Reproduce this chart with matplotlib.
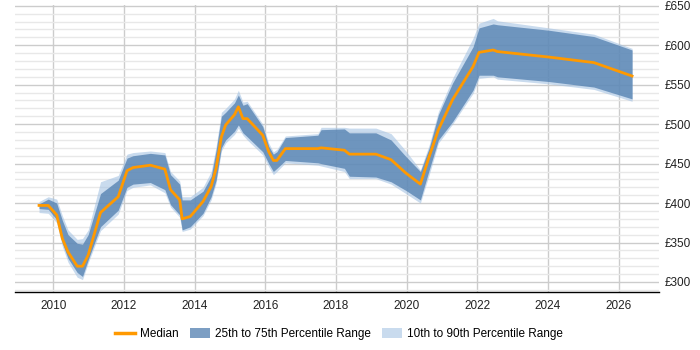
import matplotlib
matplotlib.use("Agg")
import matplotlib.pyplot as plt
from matplotlib.ticker import MultipleLocator, FuncFormatter
from matplotlib.patches import Patch
from matplotlib.lines import Line2D

plt.rcParams['font.family'] = ['Liberation Sans', 'DejaVu Sans']

years = [2009.60, 2009.86, 2010.10, 2010.26, 2010.42, 2010.68, 2010.83, 2010.99,
         2011.34, 2011.84, 2012.09, 2012.26, 2012.75, 2013.16, 2013.32, 2013.58,
         2013.65, 2013.88, 2014.24, 2014.47, 2014.61, 2014.76, 2014.88, 2015.13,
         2015.24, 2015.37, 2015.49, 2015.93, 2016.10, 2016.23, 2016.33, 2016.57,
         2017.49, 2017.58, 2018.24, 2018.38, 2019.13, 2019.56, 2019.98, 2020.39,
         2020.64, 2020.90, 2021.30, 2021.88, 2022.05, 2022.45, 2022.57, 2024.03,
         2025.30, 2026.38]
median = [397, 397, 385, 355, 338, 320, 320, 334,
          388, 408, 441, 445, 448, 443, 417, 404,
          380, 383, 402, 421, 444, 484, 499, 512,
          522, 507, 507, 486, 465, 454, 454, 469,
          469, 470, 467, 462, 462, 455, 438, 424,
          459, 493, 531, 573, 591, 594, 592, 585,
          578, 561]
p25 = [393, 392, 379, 349, 330, 312, 307, 328,
       370, 391, 420, 424, 426, 417, 398, 385,
       366, 370, 387, 408, 429, 470, 480, 491,
       499, 489, 484, 465, 450, 440, 444, 454,
       451, 450, 444, 434, 433, 427, 416, 404,
       442, 480, 503, 543, 562, 562, 560, 554,
       547, 532]
p75 = [399, 405, 400, 378, 360, 349, 348, 360,
       412, 429, 457, 460, 463, 461, 436, 424,
       404, 404, 415, 434, 467, 510, 515, 527,
       537, 524, 526, 497, 472, 462, 465, 483,
       486, 493, 494, 489, 489, 480, 459, 440,
       470, 512, 552, 598, 622, 627, 626, 619,
       611, 594]
p10 = [388, 387, 375, 345, 325, 306, 303, 324,
       365, 386, 416, 420, 423, 413, 395, 382,
       364, 367, 384, 404, 425, 466, 476, 487,
       495, 486, 480, 461, 446, 436, 440, 451,
       448, 447, 440, 431, 431, 424, 412, 400,
       436, 476, 500, 539, 558, 560, 557, 551,
       544, 529]
p90 = [402, 408, 405, 384, 366, 354, 355, 366,
       427, 435, 462, 464, 466, 464, 440, 428,
       408, 408, 420, 440, 472, 515, 520, 532,
       543, 528, 529, 500, 476, 465, 468, 485,
       488, 496, 496, 495, 495, 488, 466, 442,
       474, 516, 558, 609, 628, 634, 631, 622,
       614, 596]

DARK = '#507eaf'
LIGHT = '#a5c3e3'
ORANGE = '#ff9900'

fig = plt.figure(figsize=(7, 3.5), dpi=100)
ax = fig.add_axes([15/700, 1 - 292/350, (659.3 - 15)/700, (292 - 5)/350])

ax.fill_between(years, p10, p90, color=LIGHT, alpha=0.6, lw=0, zorder=2)
ax.fill_between(years, p25, p75, color=DARK, alpha=0.75, lw=0, zorder=3)
ax.plot(years, median, color=ORANGE, lw=2, zorder=4)

ax.set_xlim(2008.92, 2027.15)
ax.set_ylim(287.3, 651)
ax.xaxis.set_major_locator(MultipleLocator(2))
ax.yaxis.set_major_locator(MultipleLocator(50))
ax.yaxis.set_minor_locator(MultipleLocator(10))
ax.yaxis.set_major_formatter(FuncFormatter(lambda v, p: f"£{int(v)}"))
ax.yaxis.tick_right()
ax.grid(True, which='major', axis='both', color='#cccccc', lw=1, zorder=0)
ax.grid(True, which='minor', axis='y', color='#e8e8e8', lw=1, zorder=0)
ax.set_axisbelow(True)
for s in ['top', 'right', 'left']:
    ax.spines[s].set_visible(False)
ax.spines['bottom'].set_color('#000000')
ax.spines['bottom'].set_linewidth(1)
ax.tick_params(axis='both', which='both', length=0, labelsize=8.5, colors='#222222')
ax.tick_params(axis='x', pad=6)
ax.tick_params(axis='y', pad=4)

handles = [Line2D([0], [0], color=ORANGE, lw=2.5),
           Patch(facecolor=DARK, alpha=0.75, edgecolor='none'),
           Patch(facecolor=LIGHT, alpha=0.6, edgecolor='none')]
labels = ['Median', '25th to 75th Percentile Range', '10th to 90th Percentile Range']
fig.legend(handles, labels, loc='center', bbox_to_anchor=(339/700, 1 - 334/350), ncol=3,
           frameon=False, fontsize=8.5, handlelength=1.7, handleheight=1.0,
           columnspacing=0.9, handletextpad=0.45, borderpad=0.2)

fig.savefig('out.png', dpi=100)
